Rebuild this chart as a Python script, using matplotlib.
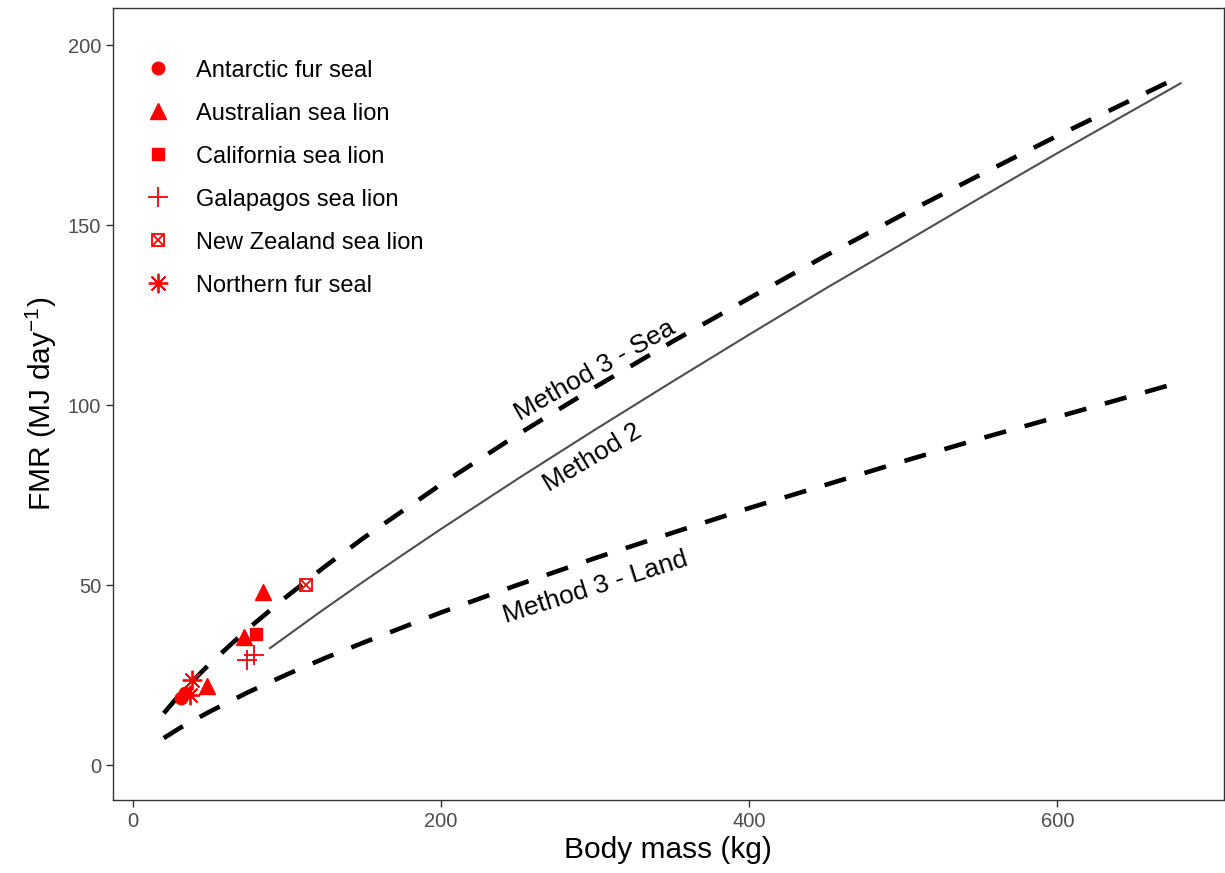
import matplotlib
matplotlib.use("Agg")
import matplotlib.pyplot as plt
from matplotlib.lines import Line2D

plt.rcParams['font.family'] = ['Liberation Sans', 'DejaVu Sans']
plt.rcParams['mathtext.default'] = 'regular'

# Fitted curves
sea_mass = [20, 30, 40, 50, 75, 100, 125, 150, 200, 250, 300, 350, 400, 450, 500, 550, 600, 680]
sea_fmr = [14.4, 19.4, 23.9, 28.2, 38.0, 46.9, 55.3, 63.2, 78.0, 91.9, 105.0, 117.6, 129.7,
           141.6, 153.0, 164.0, 174.8, 191.4]

land_mass = [20, 30, 40, 50, 75, 100, 125, 150, 200, 250, 300, 350, 400, 450, 500, 550, 600, 680]
land_fmr = [7.5, 10.2, 12.6, 14.9, 20.3, 25.2, 29.8, 34.1, 42.4, 50.1, 57.5, 64.5, 71.4,
            77.9, 84.4, 90.7, 96.7, 106.4]

m2_mass = [89, 100, 120, 150, 175, 200, 250, 300, 350, 400, 450, 500, 550, 600, 680]
m2_fmr = [32.5, 35.9, 42.1, 51.1, 58.4, 65.6, 79.6, 93.2, 106.5, 119.6, 132.5, 145.0,
          157.6, 170.0, 189.4]

# Species observations
species = ["Antarctic fur seal", "Australian sea lion", "California sea lion",
           "Galapagos sea lion", "New Zealand sea lion", "Northern fur seal"]
sp_mass = {
    "Antarctic fur seal": [31, 34],
    "Australian sea lion": [48, 84.5, 72],
    "California sea lion": [80],
    "Galapagos sea lion": [74, 78.5],
    "New Zealand sea lion": [112.3],
    "Northern fur seal": [38, 37],
}
sp_fmr = {
    "Antarctic fur seal": [18.5, 20.0],
    "Australian sea lion": [22.0, 48.0, 35.6],
    "California sea lion": [36.4],
    "Galapagos sea lion": [29.2, 30.5],
    "New Zealand sea lion": [50.0],
    "Northern fur seal": [23.5, 19.5],
}

x_ticks = [0, 200, 400, 600]
y_ticks = [0, 50, 100, 150, 200]

fig = plt.figure(figsize=(12.25, 8.73), dpi=100)
ax = fig.add_axes([0.0922, 0.0836, 0.9068, 0.9072])

ax.plot(sea_mass, sea_fmr, color='black', lw=3.3, dashes=(4.9, 4.2),
        solid_capstyle='butt', dash_capstyle='butt', zorder=2)
ax.plot(land_mass, land_fmr, color='black', lw=3.3, dashes=(4.9, 4.2),
        solid_capstyle='butt', dash_capstyle='butt', zorder=2)
ax.plot(m2_mass, m2_fmr, color='#4D4D4D', lw=1.5, zorder=2)

markers = {
    "Antarctic fur seal": dict(marker='o', ms=9, mfc='red', mec='red'),
    "Australian sea lion": dict(marker='^', ms=11, mfc='red', mec='red'),
    "California sea lion": dict(marker='s', ms=8.5, mfc='red', mec='red'),
    "Galapagos sea lion": dict(marker='+', ms=14, mfc='red', mec='red', mew=1.3),
    "New Zealand sea lion": dict(marker='s', ms=9, mfc='none', mec='red', mew=1.3),
    "Northern fur seal": dict(marker=(8, 2, 0), ms=14, mfc='red', mec='red', mew=1.3),
}

for sp in species:
    ax.plot(sp_mass[sp], sp_fmr[sp], ls='none', zorder=3, **markers[sp])
    if sp == "New Zealand sea lion":
        ax.plot(sp_mass[sp], sp_fmr[sp], ls='none', marker='x', ms=7,
                mec='red', mew=1.3, zorder=3)

handles = [Line2D([], [], ls='none', **markers[sp]) for sp in species]
nz_idx = species.index("New Zealand sea lion")
nz_x = Line2D([], [], ls='none', marker='x', ms=7, mec='red', mew=1.3)
handles[nz_idx] = (handles[nz_idx], nz_x)
ax.legend(handles, species, loc='upper left', frameon=False,
          fontsize=17, labelspacing=0.89, handletextpad=0.8,
          borderaxespad=0, borderpad=0, bbox_to_anchor=(0.0234, 0.935),
          handlelength=1.6)

ax.text(300, 109.5, "Method 3 - Sea", rotation=29.5, ha='center', va='center', fontsize=19)
ax.text(298, 85.5, "Method 2", rotation=31, ha='center', va='center', fontsize=19)
ax.text(300, 49.4, "Method 3 - Land", rotation=17.5, ha='center', va='center', fontsize=19)

ax.set_xlim(-13, 708)
ax.set_ylim(-9.7, 210.3)
ax.set_xticks(x_ticks)
ax.set_yticks(y_ticks)
ax.tick_params(axis='both', labelsize=14.5, labelcolor='#4D4D4D', color='#333333',
               length=5, width=1)
ax.set_xlabel("Body mass (kg)", fontsize=21.5, labelpad=4)
ax.set_ylabel(r"FMR (MJ day$^{-1}$)", fontsize=21.5, labelpad=6)
for s in ax.spines.values():
    s.set_color('#333333')
    s.set_linewidth(1.0)

fig.savefig("out.png", dpi=100)
